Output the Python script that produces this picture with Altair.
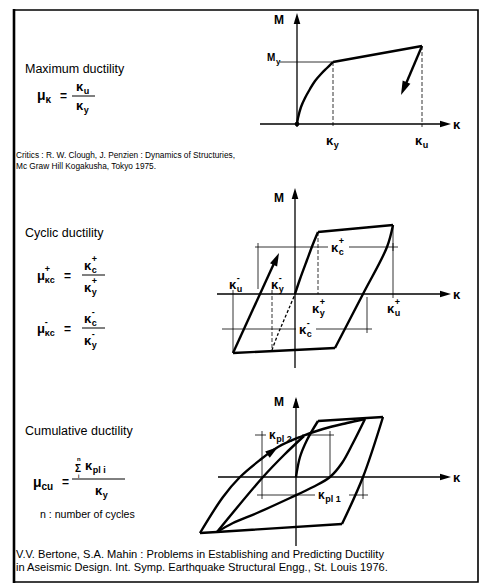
import math
import altair as alt
import pandas as pd

# ---------------- text content ----------------
titles = ["Maximum ductility", "Cyclic ductility", "Cumulative ductility"]
ref_clough = ["Critics : R. W. Clough, J. Penzien : Dynamics of Structuries,",
              "Mc Graw  Hill Kogakusha, Tokyo 1975."]
ref_bertero = ["V.V. Bertone, S.A. Mahin : Problems in Establishing and Predicting Ductility",
               "in Aseismic Design. Int. Symp. Earthquake Structural Engg., St. Louis 1976."]
note_cycles = "n : number of cycles"

# ---------------- curve shapes (curvature k, moment m) ----------------
# Panel 1: monotonic moment-curvature
p1_load_k = [0, 1, 4, 8, 13, 18, 24, 30, 36]
p1_load_m = [0, 6, 17, 26, 35, 43, 50, 56, 62]
p1_plateau_k = [36, 125]
p1_plateau_m = [62, 78]
p1_drop_k = [125, 104]
p1_drop_m = [78, 29]

# Panel 2: one full cycle
p2_load_k = [0, 5, 12, 18, 23]
p2_load_m = [0, 15, 34, 50, 62]
p2_top_k = [23, 98]
p2_top_m = [62, 69]
p2_unload_k = [98, 92, 68, 40]
p2_unload_m = [69, 47, 0, -54]
p2_bottom_k = [40, -62]
p2_bottom_m = [-54, -59]
p2_reload_k = [-62, -16]
p2_reload_m = [-59, 41]
p2_neg_k = [-23, -17, -11, -5, 0]
p2_neg_m = [-56, -40, -26, -12, 0]

# Panel 3: two cycles
p3_load_k = [0, 4, 11, 22]
p3_load_m = [0, 20, 37, 56]
p3_top_k = [22, 87]
p3_top_m = [56, 60]
p3_unload_k = [87, 67, 46]
p3_unload_m = [60, 0, -47]
p3_bottom_k = [46, -79, -96]
p3_bottom_m = [-47, -55, -56]
p3_reload_a_k = [-96, -73, -56, -36, -18, 4, 27, 51, 69]
p3_reload_a_m = [-56, -20, 0, 17, 30, 40, 48, 54, 58]
p3_unload_b_k = [69, 57, 46, 34, 17, -6, -39, -63, -79]
p3_unload_b_m = [58, 34, 14, 0, -10, -21, -36, -46, -55]
p3_reload_b_k = [-79, -33, -12, 8]
p3_reload_b_m = [-55, 0, 22, 41]

# ---------------- layout ----------------
W, H = 485, 588
O1, O2, O3 = (297, 124), (295, 294), (296, 477)

FONT = "Liberation Sans"

rows = []
_seg = [0]


def seg(style, ks, ms, origin):
    _seg[0] += 1
    ox, oy = origin
    for i, (k, m) in enumerate(zip(ks, ms)):
        rows.append(dict(x=ox + k, y=oy - m, seg=_seg[0], ord=i, style=style))


def gseg(style, xs, ys):
    seg(style, xs, [-v for v in ys], (0, 0))


heads = []


def head(origin, ks, ms, r):
    """Arrowhead at the last point of a polyline, pointing along its last step."""
    ox, oy = origin
    x1, y1 = ox + ks[-2], oy - ms[-2]
    x2, y2 = ox + ks[-1], oy - ms[-1]
    ang = math.degrees(math.atan2(x2 - x1, -(y2 - y1))) % 360
    heads.append(dict(x=x2, y=y2, ang=ang, sz=(2 * r) ** 2))


# frame
gseg("frame", [14, 478, 478, 14], [10, 10, 582, 582])
gseg("frameL", [14, 14], [9, 583])

# ---- panel 1
seg("axis", [0, 0], [-3, 108], O1); head(O1, [0, 0], [100, 111], 11)
seg("axis", [-37, 150], [0, 0], O1); head(O1, [140, 154], [0, 0], 11)
seg("thin", [-17, 36], [62, 62], O1)
seg("dash", [36, 36], [62, -3], O1)
seg("dash", [125, 125], [78, -3], O1)
seg("curve", p1_load_k, p1_load_m, O1)
seg("thick", p1_plateau_k, p1_plateau_m, O1)
seg("thick", p1_drop_k[:1] + [p1_drop_k[1] + 4], p1_drop_m[:1] + [p1_drop_m[1] + 9], O1)
head(O1, p1_drop_k, p1_drop_m, 14)

# ---- panel 2
seg("axis", [0, 0], [-74, 103], O2); head(O2, [0, 0], [90, 106], 11)
seg("axis", [-78, 152], [0, 0], O2); head(O2, [140, 156], [0, 0], 11)
seg("dash", [23, 23], [62, 0], O2)
seg("thin", [98, 98], [69, -4], O2)
seg("thin", [-40, 103], [47, 47], O2)
seg("thin", [-37, -37], [51, 5], O2)
seg("thin", [98, 98], [51, 43], O2)
seg("thin", [-73, 77], [-35, -35], O2)
seg("thin", [-62, -62], [4, -59], O2)
seg("thin", [72, 72], [-3, -39], O2)
seg("dash", [-23, -23], [4, -56], O2)
seg("curve", p2_load_k, p2_load_m, O2)
seg("thick", p2_top_k, p2_top_m, O2)
seg("curve", p2_unload_k, p2_unload_m, O2)
seg("thick", p2_bottom_k, p2_bottom_m, O2)
seg("thick", [p2_reload_k[0], -19], [p2_reload_m[0], 35], O2)
head(O2, p2_reload_k, p2_reload_m, 13)
seg("dcurve", p2_neg_k, p2_neg_m, O2)

# ---- panel 3
seg("axis", [0, 0], [-69, 78], O3); head(O3, [0, 0], [70, 80], 11)
seg("axis", [-78, 152], [0, 0], O3); head(O3, [140, 155], [0, 0], 11)
seg("thin", [-41, 38], [42, 42], O3)
seg("thin", [-34, -34], [46, -22], O3)
seg("thin", [34, 34], [46, 0], O3)
seg("thin", [-39, 72], [-18, -18], O3)
seg("thin", [67, 67], [0, -22], O3)
seg("curve", p3_load_k, p3_load_m, O3)
seg("thick", p3_top_k, p3_top_m, O3)
seg("curve", p3_unload_k, p3_unload_m, O3)
seg("thick", p3_bottom_k, p3_bottom_m, O3)
seg("curve", p3_reload_a_k, p3_reload_a_m, O3)
seg("curve", p3_unload_b_k, p3_unload_b_m, O3)
seg("curve", p3_reload_b_k, p3_reload_b_m, O3)
head(O3, [-36, -18], [17, 30], 13)

# fraction bars
gseg("bar", [72, 95], [96, 96])
gseg("bar", [82, 105], [275, 275])
gseg("bar", [82, 105], [328, 328])
gseg("bar", [72, 125], [479, 479])

lines = pd.DataFrame(rows)
heads_df = pd.DataFrame(heads)

# ---------------- labels ----------------
texts = []


def t(x, y, s, size, style="bold"):
    texts.append(dict(x=x, y=y, s=s, fs=size, style=style))


def sym(x, y, main, sub="", sup="", size=13, sub_size=9, w=None):
    """Bold symbol with optional subscript / superscript (x = left edge, y = baseline)."""
    t(x, y, main, size)
    w = 0.6 * size if w is None else w
    if sub:
        t(x + w, y + 3, sub, sub_size)
    if sup:
        t(x + w, y - 8, sup, sub_size)


# titles and references
t(25, 73, titles[0], 12.5, "normal")
t(25, 237, titles[1], 12.5, "normal")
t(25, 435, titles[2], 12.5, "normal")
t(16, 158, ref_clough[0], 8.3, "normal")
t(16, 169, ref_clough[1], 8.3, "normal")
t(16, 558, ref_bertero[0], 11.1, "normal")
t(16, 571, ref_bertero[1], 11.1, "normal")
t(40, 518, note_cycles, 10.6, "normal")

# formula 1
sym(37, 100, "\u03bc", "\u03ba", size=14, sub_size=10)
t(60, 100, "=", 12)
sym(76, 91, "\u03ba", "u")
sym(76, 110, "\u03ba", "y")
# formula 2
sym(37, 280, "\u03bc", "\u03bac", "+", size=13, sub_size=9)
t(64, 280, "=", 12)
sym(84, 270, "\u03ba", "c", "+")
sym(84, 292, "\u03ba", "y", "+")
# formula 3
sym(37, 333, "\u03bc", "\u03bac", "-", size=13, sub_size=9)
t(64, 333, "=", 12)
sym(84, 323, "\u03ba", "c", "-")
sym(84, 345, "\u03ba", "y", "-")
# formula 4
sym(33, 487, "\u03bc", "cu", size=14, sub_size=10)
t(62, 486, "=", 12)
t(75, 472, "\u03a3", 10)
t(77, 461, "n", 6)
t(78, 478, "i", 5)
sym(85, 470, "\u03ba", "pl i", size=13, sub_size=9)
sym(95, 495, "\u03ba", "y")

# panel 1 graph labels
t(274, 24, "M", 12)
sym(453, 129, "\u03ba")
sym(267, 61, "M", "y", size=10, sub_size=8, w=9)
sym(326, 145, "\u03ba", "y")
sym(415, 145, "\u03ba", "u")
# panel 2 graph labels
t(274, 202, "M", 12)
sym(453, 299, "\u03ba")
sym(331, 252, "\u03ba", "c", "+")
sym(299, 334, "\u03ba", "c", "-")
sym(312, 313, "\u03ba", "y", "+")
sym(387, 313, "\u03ba", "u", "+")
sym(229, 289, "\u03ba", "u", "-")
sym(271, 289, "\u03ba", "y", "-")
# panel 3 graph labels
t(274, 406, "M", 12)
sym(453, 482, "\u03ba")
sym(269, 439, "\u03ba", "pl 2", size=12, sub_size=9)
sym(318, 499, "\u03ba", "pl 1", size=12, sub_size=9)

texts_df = pd.DataFrame(texts)

# white masks behind labels sitting on dimension lines
masks = pd.DataFrame(dict(
    x=[328, 296, 266, 315],
    x2=[349, 316, 302, 349],
    y=[238, 320, 428, 488],
    y2=[256, 338, 446, 505],
))

# ---------------- chart ----------------
X = alt.X("x:Q", scale=alt.Scale(domain=[0, W], nice=False, zero=False), axis=None)
Y = alt.Y("y:Q", scale=alt.Scale(domain=[0, H], nice=False, zero=False, reverse=True), axis=None)

line_styles = {
    "frame": dict(strokeWidth=1.6),
    "frameL": dict(strokeWidth=2.6),
    "thin": dict(strokeWidth=0.8),
    "dash": dict(strokeWidth=0.8, strokeDash=[4, 2]),
    "bar": dict(strokeWidth=1.0),
    "axis": dict(strokeWidth=1.3),
    "thick": dict(strokeWidth=2.4),
    "curve": dict(strokeWidth=2.4, interpolate="catmull-rom"),
    "dcurve": dict(strokeWidth=1.3, strokeDash=[3, 2], interpolate="catmull-rom"),
}

layers = []
for name in ["frame", "frameL", "thin", "dash", "bar"]:
    layers.append(
        alt.Chart(lines).transform_filter(alt.datum.style == name)
        .mark_line(color="black", **line_styles[name])
        .encode(x=X, y=Y, detail="seg:N", order="ord:Q")
    )
layers.append(
    alt.Chart(masks).mark_rect(color="white").encode(x=X, x2="x2:Q", y=Y, y2="y2:Q")
)
for name in ["axis", "thick", "curve", "dcurve"]:
    layers.append(
        alt.Chart(lines).transform_filter(alt.datum.style == name)
        .mark_line(color="black", **line_styles[name])
        .encode(x=X, y=Y, detail="seg:N", order="ord:Q")
    )
layers.append(
    alt.Chart(heads_df).mark_point(
        shape="M0,0 L0.3,1 L-0.3,1 Z", filled=True, color="black", opacity=1, strokeWidth=0
    ).encode(x=X, y=Y, angle=alt.Angle("ang:Q", scale=None), size=alt.Size("sz:Q", scale=None))
)
layers.append(
    alt.Chart(pd.DataFrame(dict(x=[O1[0]], y=[O1[1]])))
    .mark_circle(color="black", size=22, opacity=1).encode(x=X, y=Y)
)
for style, weight in [("normal", "normal"), ("bold", "bold")]:
    layers.append(
        alt.Chart(texts_df).transform_filter(alt.datum.style == style)
        .mark_text(font=FONT, fontWeight=weight, align="left", baseline="alphabetic", color="black")
        .encode(x=X, y=Y, text="s:N", size=alt.Size("fs:Q", scale=None))
    )

chart = alt.layer(*layers).properties(
    width=W, height=H, autosize=alt.AutoSizeParams(type="none"), padding=0, background="white"
).configure_view(stroke=None)

chart.save("out.html", embed_options={"renderer": "svg", "actions": False})
